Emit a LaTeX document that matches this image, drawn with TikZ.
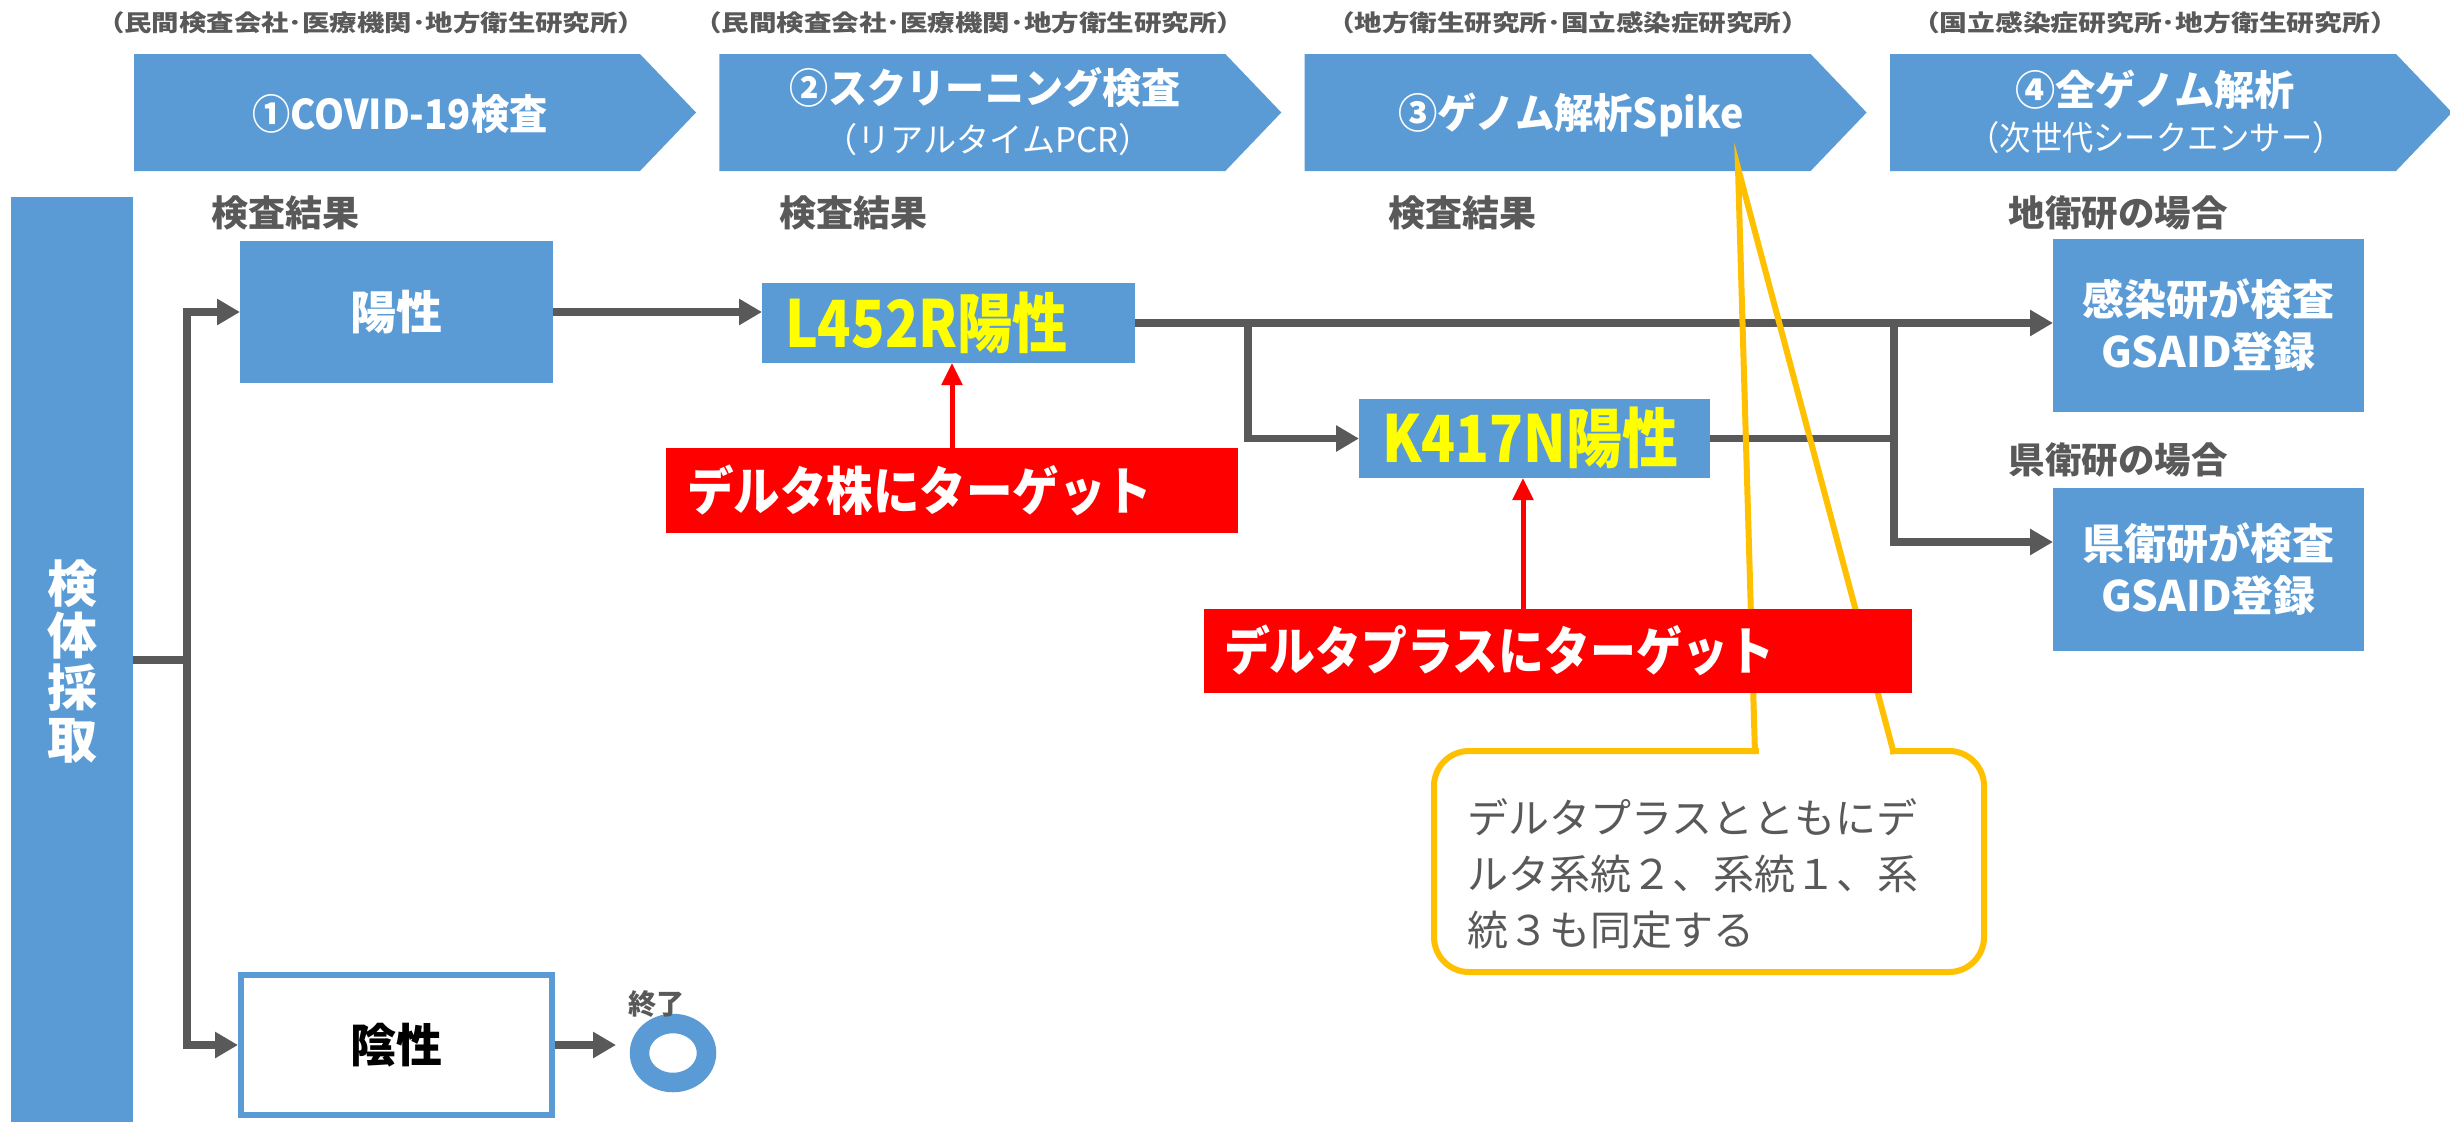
\documentclass[tikz,border=0pt]{standalone}
\usepackage{fontspec}
\usepackage{graphicx}
\setmainfont{Noto Sans CJK JP}
\usetikzlibrary{arrows.meta,shapes.geometric}
\definecolor{cblue}{HTML}{5B9BD5}
\definecolor{cgray}{HTML}{595959}
\definecolor{cyel}{HTML}{FFFF00}
\definecolor{corange}{HTML}{FFC000}
\definecolor{cred}{HTML}{FF0000}
\newcommand{\jfs}[1]{\fontsize{#1}{#1}\selectfont}
\newcommand{\fw}[2]{\resizebox{#1pt}{\height}{#2}}
\begin{document}
\begin{tikzpicture}[x=1pt,y=-1pt,
  box/.style={fill=cblue, inner sep=0pt, outer sep=0pt, text=white, font=\bfseries\jfs{42}, align=center},
  redbox/.style={fill=cred, inner sep=0pt, outer sep=0pt},
  lbl/.style={inner sep=0pt, outer sep=0pt},
  hdr/.style={lbl, text=cgray, font=\bfseries\jfs{23}},
  chev/.style={lbl, text=white, font=\bfseries\jfs{41}},
  chevsub/.style={lbl, text=white, font=\jfs{34}},
  res/.style={lbl, text=cgray, font=\bfseries\jfs{36}},
  redtxt/.style={lbl, anchor=west, text=white, font=\bfseries\jfs{52}},
  yeltxt/.style={lbl, anchor=west, text=cyel, font=\bfseries\jfs{65}},
  gline/.style={draw=cgray, line width=7.5pt},
  garrow/.style={gline, -{Triangle[length=23pt,width=25pt]}},
  rarrow/.style={draw=cred, line width=5pt, -{Triangle[length=22pt,width=20pt]}},
  callline/.style={draw=corange, line width=6pt},
]
\useasboundingbox (0,0) rectangle (2450,1122);
\fill[white] (0,0) rectangle (2450,1122);

% chevrons
\foreach \L in {134, 719.3, 1304.6, 1890} {
  \fill[cblue] (\L,54) -- ++(506,0) -- ++(56,58.5) -- ++(-56,58.5) -- ++(-506,0) -- cycle;
}

% header labels
\node[hdr] (h1) at (371,23) {\fw{548}{（民間検査会社･医療機関･地方衛生研究所）}};
\node[hdr] (h2) at (969,23) {\fw{550}{（民間検査会社･医療機関･地方衛生研究所）}};
\node[hdr] (h3) at (1568,23) {\fw{482}{（地方衛生研究所･国立感染症研究所）}};
\node[hdr] (h4) at (2155,23) {\fw{486}{（国立感染症研究所･地方衛生研究所）}};

% chevron titles
\node[chev] (c1) at (400,114) {\fw{295}{①COVID-19検査}};
\node[chev] (c2a) at (985,88) {\fw{391}{②スクリーニング検査}};
\node[chevsub] (c2b) at (988,140) {\fw{327}{（リアルタイムPCR）}};
\node[chev] (c3) at (1571,115) {\fw{345}{③ゲノム解析Spike}};
\node[chev] (c4a) at (2155,90) {\fw{280}{④全ゲノム解析}};
\node[chevsub] (c4b) at (2156,138) {\fw{375}{（次世代シークエンサー）}};

% result labels
\node[res] (r1) at (285,213) {\fw{148}{検査結果}};
\node[res] (r2) at (853,213) {\fw{148}{検査結果}};
\node[res] (r3) at (1462,213) {\fw{148}{検査結果}};
\node[res] (r4) at (2118,213) {\fw{219}{地衛研の場合}};
\node[res] (r5) at (2118,460) {\fw{219}{県衛研の場合}};

% left bar
\node[box, minimum width=122pt, minimum height=925pt] (bar) at (72,659.5) {};
\node[lbl, text=white, font=\bfseries\fontsize{50}{52}\selectfont, align=center] (bart) at (72,661.5) {検\\体\\採\\取};

% boxes
\node[box, font=\bfseries\jfs{46}, minimum width=313pt, minimum height=142pt] (yang) at (396.5,312) {陽性};
\node[draw=cblue, line width=6pt, fill=white, inner sep=0pt, outer sep=3pt, minimum width=311pt, minimum height=140pt, font=\bfseries\jfs{46}, text=black] (yin) at (396.5,1045) {陰性};
\node[box, minimum width=373pt, minimum height=80pt] (l452) at (948.5,323) {};
\node[yeltxt] (l452t) at (785,323) {\fw{283}{L452R陽性}};
\node[box, minimum width=351pt, minimum height=79pt] (k417) at (1534.5,438.5) {};
\node[yeltxt] (k417t) at (1382,438) {\fw{296}{K417N陽性}};
\node[box, minimum width=311pt, minimum height=173pt, font=\bfseries\fontsize{42}{52}\selectfont] (kan) at (2208.5,325.5) {感染研が検査\\GSAID登録};
\node[box, minimum width=311pt, minimum height=163pt, font=\bfseries\fontsize{42}{52}\selectfont] (ken) at (2208.5,569.5) {県衛研が検査\\GSAID登録};

% end ring
\node[ellipse, draw=cblue, line width=19.5pt, minimum width=67pt, minimum height=59pt, inner sep=0pt] (ring) at (673,1053) {};
\node[lbl, text=cgray, font=\bfseries\jfs{28}] (endl) at (656,1004) {終了};

% gray connectors
\coordinate (j1) at (187,660);
\coordinate (j2) at (1248,323);
\coordinate (j3) at (1894,323);
\coordinate (endin) at (616,1045);
\draw[gline] (bar.east |- j1) -- (j1);
\draw[garrow] (j1) |- (yang.west);
\draw[garrow] (j1) |- (yin.west);
\draw[garrow] (yin.east) -- (endin);
\draw[garrow] (yang.east) -- (yang.east -| l452.west);
\draw[garrow] (l452.east) -- (l452.east -| kan.west);
\draw[garrow] (j2) |- (k417.west);
\draw[gline] (k417.east) -- (k417.east -| j3);
\draw[garrow] (j3) |- (ken.west |- 0,542);

% callout
\node[draw=corange, line width=6pt, rounded corners=35pt, fill=white, inner sep=0pt, minimum width=550pt, minimum height=221pt] (call) at (1709,861.5) {};
\draw[white, line width=8pt] (1759,751) -- (1890,751);
\coordinate (tip) at (1738,168);
\draw[callline, line join=miter] (1755,754) -- (tip) -- (1894,754);
\node[lbl, anchor=west, align=left, text=cgray, font=\fontsize{41}{56}\selectfont] (callt) at (1467,874) {デルタプラスとともにデ\\ルタ系統２、系統１、系\\統３も同定する};

% red boxes
\node[redbox, minimum width=572pt, minimum height=85pt] (red1) at (952,490.5) {};
\node[redtxt] (red1t) at (687,490) {\fw{465}{デルタ株にターゲット}};
\node[redbox, minimum width=708pt, minimum height=84pt] (red2) at (1558,651) {};
\node[redtxt] (red2t) at (1224,650) {\fw{550}{デルタプラスにターゲット}};

% red arrows
\coordinate (ra2) at (1523,609);
\draw[rarrow] (red1.north) -- (red1.north |- l452.south);
\draw[rarrow] (ra2) -- (ra2 |- k417.south);
\end{tikzpicture}
\end{document}
